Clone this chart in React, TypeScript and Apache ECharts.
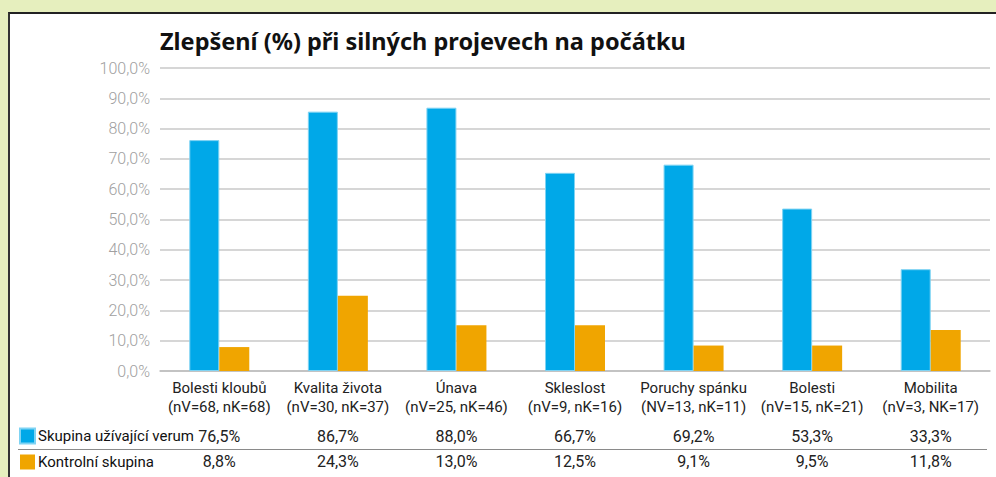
import React, { useEffect, useRef } from "react";
import * as echarts from "echarts";

const categories = [
  "Bolesti kloubů\n(nV=68, nK=68)",
  "Kvalita života\n(nV=30, nK=37)",
  "Únava\n(nV=25, nK=46)",
  "Skleslost\n(nV=9, nK=16)",
  "Poruchy spánku\n(NV=13, nK=11)",
  "Bolesti\n(nV=15, nK=21)",
  "Mobilita\n(nV=3, NK=17)",
];
const seriesNames = ["Skupina užívající verum", "Kontrolní skupina"];
const verumBars = [76.2, 85.6, 86.9, 65.4, 68.1, 53.6, 33.6];
const controlBars = [7.9, 24.8, 15.1, 15.1, 8.4, 8.4, 13.5];
const verumTable = ["76,5%", "86,7%", "88,0%", "66,7%", "69,2%", "53,3%", "33,3%"];
const controlTable = ["8,8%", "24,3%", "13,0%", "12,5%", "9,1%", "9,5%", "11,8%"];
const title = "Zlepšení (%) při silných projevech na počátku";

const BLUE = "#00a8e8";
const ORANGE = "#f0a500";
const FONT = "Roboto";

export default function App() {
  const ref = useRef<HTMLDivElement>(null);
  useEffect(() => {
    if (!ref.current) return;
    const chart = echarts.init(ref.current, null, { renderer: "svg" });
    const tableAxis = (data: string[], offset: number) => ({
      type: "category",
      data,
      position: "bottom",
      offset,
      axisLine: { show: false },
      axisTick: { show: false },
      splitLine: { show: false },
      axisLabel: { margin: 0, fontFamily: FONT, fontSize: 16, color: "#222", interval: 0 },
    });
    chart.setOption({
      animation: false,
      backgroundColor: "transparent",
      title: {
        text: title,
        left: 155,
        top: 24,
        textStyle: { fontFamily: "Noto Sans", fontWeight: "bold", fontSize: 23.5, color: "#111" },
      },
      legend: {
        orient: "vertical",
        left: 19,
        top: 427,
        padding: 0,
        itemWidth: 15,
        itemHeight: 15,
        itemGap: 8,
        icon: "rect",
        selectedMode: false,
        textStyle: { fontFamily: FONT, fontSize: 15, lineHeight: 18, color: "#111", padding: [0, 0, 0, -2] },
        data: seriesNames,
      },
      grid: { left: 160, right: 6, top: 68, bottom: 106, containLabel: false },
      xAxis: [
        {
          type: "category",
          data: categories,
          axisLine: { lineStyle: { color: "#bdbdbd", width: 1.5 } },
          axisTick: { show: false },
          axisLabel: { margin: 7, fontFamily: FONT, fontSize: 15, lineHeight: 19, color: "#222", interval: 0 },
        },
        tableAxis(verumTable, 57),
        tableAxis(controlTable, 82),
      ],
      yAxis: {
        type: "value",
        min: 0,
        max: 100,
        interval: 10,
        axisLine: { show: false },
        axisTick: { show: false },
        axisLabel: {
          margin: 10,
          fontFamily: FONT,
          fontSize: 16,
          fontWeight: 300,
          color: "#a0a0a0",
          formatter: (v: number) => v.toFixed(1).replace(".", ",") + "%",
        },
        splitLine: { lineStyle: { color: "#c8c8c8", width: 1.5 } },
      },
      series: [
        {
          name: seriesNames[0],
          type: "bar",
          data: verumBars,
          barWidth: 30,
          barGap: "0%",
          itemStyle: { color: BLUE, borderColor: "#7fd3f3", borderWidth: 1 },
        },
        {
          name: seriesNames[1],
          type: "bar",
          data: controlBars,
          barWidth: 30,
          barGap: "0%",
          itemStyle: { color: ORANGE },
        },
      ],
      graphic: [
        {
          type: "line",
          shape: { x1: 18, y1: 449.5, x2: 987, y2: 449.5 },
          style: { stroke: "#8a8a8a", lineWidth: 1 },
        },
      ],
    });
    return () => chart.dispose();
  }, []);
  return (
    <div style={{ position: "fixed", left: 0, top: 0, width: 996, height: 477, background: "#e6efbe", overflow: "hidden" }}>
      <div
        style={{
          position: "absolute",
          left: 8,
          top: 12,
          width: 1100,
          height: 600,
          background: "#ffffff",
          borderLeft: "2px solid #333",
          borderTop: "2px solid #222",
        }}
      />
      <div ref={ref} style={{ position: "absolute", left: 0, top: 0, width: 996, height: 477 }} />
    </div>
  );
}
